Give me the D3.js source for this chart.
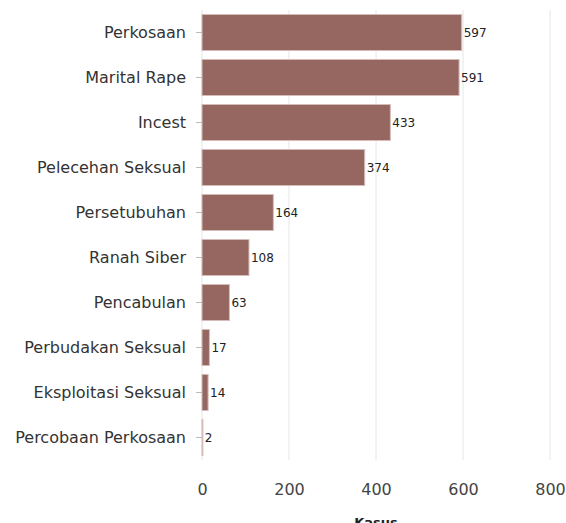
<!DOCTYPE html>
<html>
<head>
<meta charset="utf-8">
<script src="https://cdn.jsdelivr.net/npm/d3@7"></script>
<style>
  body { margin: 0; background: #fff; }
  svg text { font-family: "DejaVu Sans", Verdana, sans-serif; }
</style>
</head>
<body>
<div id="chart"></div>
<script>
// data
const categories = ["Perkosaan", "Marital Rape", "Incest", "Pelecehan Seksual", "Persetubuhan",
  "Ranah Siber", "Pencabulan", "Perbudakan Seksual", "Eksploitasi Seksual", "Percobaan Perkosaan"];
const kasus = [597, 591, 433, 374, 164, 108, 63, 17, 14, 2];
const xTicks = [0, 200, 400, 600, 800];

const width = 566, height = 523;
const margin = { top: 10, right: 16, bottom: 63, left: 202 };

const svg = d3.select("#chart").append("svg")
  .attr("width", width)
  .attr("height", height);

const x = d3.scaleLinear()
  .domain([0, 800])
  .range([margin.left, width - margin.right]);

const y = d3.scaleBand()
  .domain(categories)
  .range([margin.top, height - margin.bottom])
  .paddingInner(0.2)
  .paddingOuter(0.1);

// gridlines
svg.append("g")
  .selectAll("line")
  .data(xTicks)
  .enter().append("line")
  .attr("x1", d => x(d))
  .attr("x2", d => x(d))
  .attr("y1", margin.top)
  .attr("y2", height - margin.bottom)
  .style("stroke", "#e6e6e6")
  .style("stroke-width", 1);

// bars
svg.append("g")
  .selectAll("rect")
  .data(categories)
  .enter().append("rect")
  .attr("x", x(0))
  .attr("y", d => y(d))
  .attr("width", (d, i) => x(kasus[i]) - x(0))
  .attr("height", y.bandwidth())
  .style("fill", "#956760")
  .style("stroke", "#d6bcb8")
  .style("stroke-width", 1);

// value labels
svg.append("g")
  .selectAll("text")
  .data(categories)
  .enter().append("text")
  .attr("x", (d, i) => x(kasus[i]) + 2)
  .attr("y", d => y(d) + y.bandwidth() / 2)
  .attr("dy", "0.35em")
  .style("font-size", "12px")
  .style("fill", "#222")
  .text((d, i) => kasus[i]);

// y axis
const yAxis = svg.append("g")
  .attr("transform", `translate(${margin.left},0)`)
  .call(d3.axisLeft(y).tickSize(6).tickPadding(10));
yAxis.select(".domain").remove();
yAxis.selectAll(".tick line").style("stroke", "#bbb");
yAxis.selectAll(".tick text")
  .style("font-size", "16px")
  .style("fill", "#333");

// x axis
const xAxis = svg.append("g")
  .attr("transform", `translate(0,${height - margin.bottom})`)
  .call(d3.axisBottom(x).tickValues(xTicks).tickSize(0).tickPadding(24));
xAxis.select(".domain").remove();
xAxis.selectAll(".tick text")
  .style("font-size", "16px")
  .style("fill", "#444");

// axis title, partly cut off at the bottom edge as in the reference
svg.append("text")
  .attr("x", x(400))
  .attr("y", 527)
  .attr("text-anchor", "middle")
  .style("font-size", "13px")
  .style("font-weight", "bold")
  .style("fill", "#222")
  .text("Kasus");
</script>
</body>
</html>
